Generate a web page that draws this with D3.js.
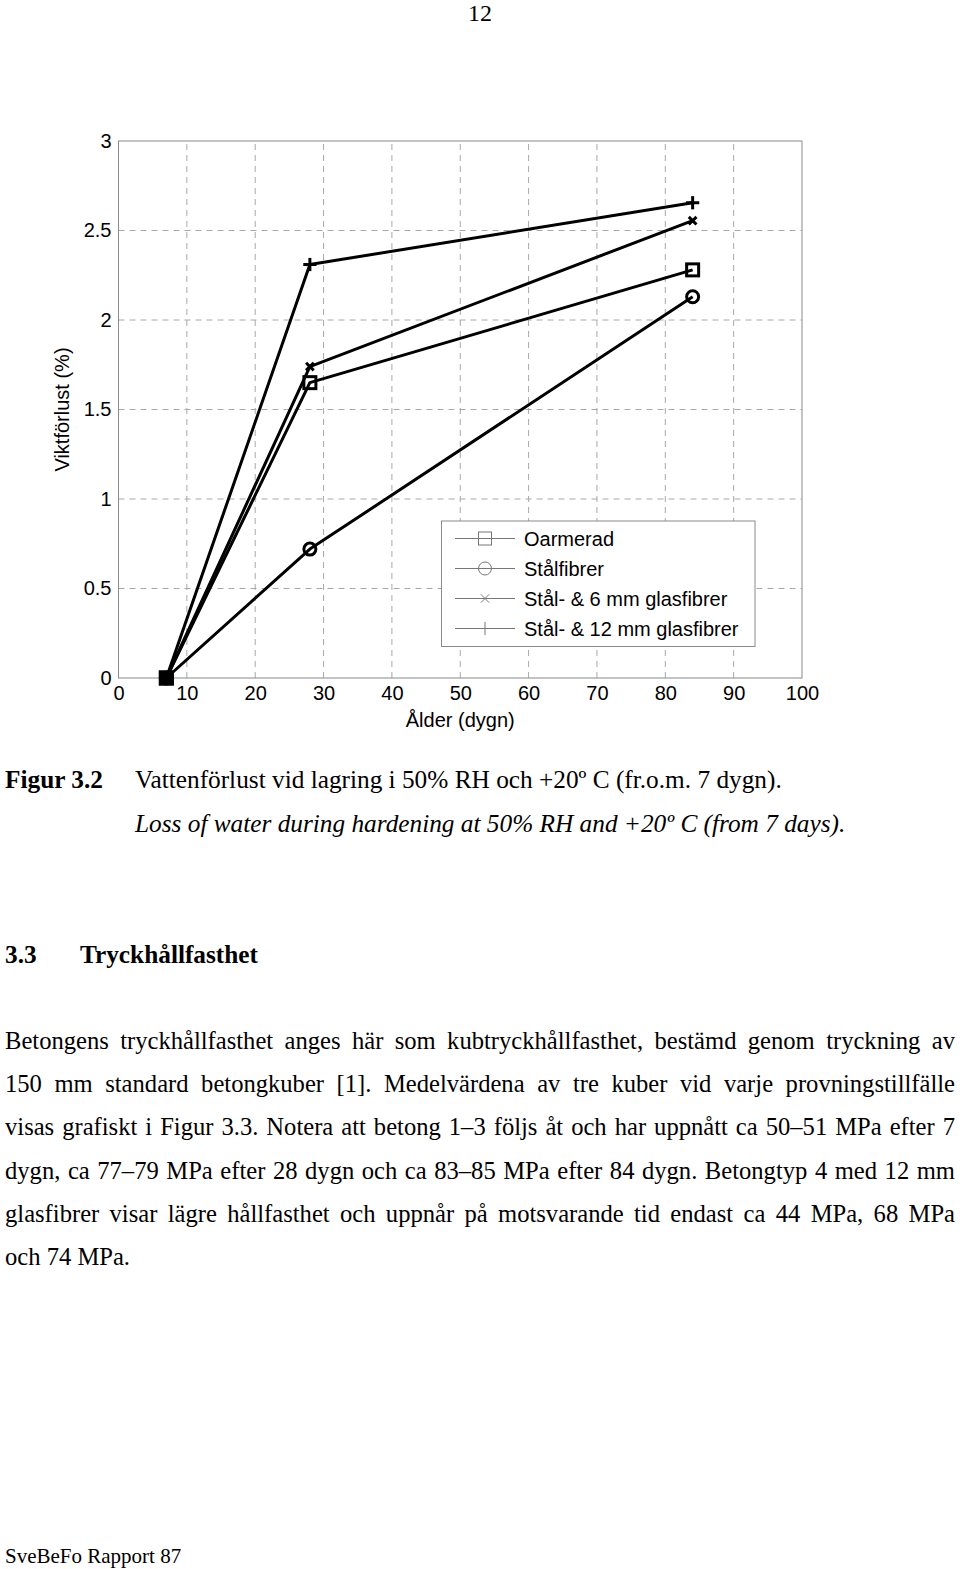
<!DOCTYPE html>
<html><head><meta charset="utf-8">
<script src="https://cdn.jsdelivr.net/npm/d3@7"></script>
<style>body{margin:0;background:#fff}svg{display:block}</style>
</head><body>
<svg id="page" width="960" height="1569"></svg>
<script>
// ---- data ----
const days = [7, 28, 84];
const oarmerad = [0, 1.65, 2.28];
const stalfibrer = [0, 0.72, 2.13];
const stal6 = [0, 1.74, 2.555];
const stal12 = [0, 2.31, 2.655];
const seriesNames = ["Oarmerad", "Stålfibrer", "Stål- & 6 mm glasfibrer", "Stål- & 12 mm glasfibrer"];
const seriesMarkers = ["square", "circle", "x", "plus"];
const xTicks = [0, 10, 20, 30, 40, 50, 60, 70, 80, 90, 100];
const yTicks = [0, 0.5, 1, 1.5, 2, 2.5, 3];
const yTickLabels = ["0", "0.5", "1", "1.5", "2", "2.5", "3"];
const xLabel = "Ålder (dygn)";
const yLabel = "Viktförlust (%)";
const pageNumber = "12";
const captionLabel = "Figur 3.2";
const captionSv = "Vattenförlust vid lagring i 50% RH och +20º C (fr.o.m. 7 dygn).";
const captionEn = "Loss of water during hardening at 50% RH and +20º C (from 7 days).";
const headingNum = "3.3";
const headingText = "Tryckhållfasthet";
const paragraphLines = [
  "Betongens tryckhållfasthet anges här som kubtryckhållfasthet, bestämd genom tryckning av",
  "150 mm standard betongkuber [1]. Medelvärdena av tre kuber vid varje provningstillfälle",
  "visas grafiskt i Figur 3.3. Notera att betong 1–3 följs åt och har uppnått ca 50–51 MPa efter 7",
  "dygn, ca 77–79 MPa efter 28 dygn och ca 83–85 MPa efter 84 dygn. Betongtyp 4 med 12 mm",
  "glasfibrer visar lägre hållfasthet och uppnår på motsvarande tid endast ca 44 MPa, 68 MPa",
  "och 74 MPa."
];
const footer = "SveBeFo Rapport 87";

const seriesValues = [oarmerad, stalfibrer, stal6, stal12];

// ---- chart ----
const svg = d3.select("#page");
const sans = "'Liberation Sans', Arial, Helvetica, sans-serif";
const serif = "'Liberation Serif', 'Times New Roman', serif";

const x = d3.scaleLinear().domain([0, 100]).range([118.5, 802]);
const y = d3.scaleLinear().domain([0, 3]).range([678, 141]);

const g = svg.append("g");

// grid
g.append("g").selectAll("line.vg").data(xTicks.slice(1, -1)).join("line")
  .attr("x1", d => x(d)).attr("x2", d => x(d)).attr("y1", y(0)).attr("y2", y(3))
  .attr("stroke", "#a8a8a8").attr("stroke-width", 1).attr("stroke-dasharray", "6,5");
g.append("g").selectAll("line.hg").data(yTicks.slice(1, -1)).join("line")
  .attr("x1", x(0)).attr("x2", x(100)).attr("y1", d => y(d)).attr("y2", d => y(d))
  .attr("stroke", "#a8a8a8").attr("stroke-width", 1).attr("stroke-dasharray", "6,5");

// frame
g.append("rect").attr("x", x(0)).attr("y", y(3)).attr("width", x(100) - x(0)).attr("height", y(0) - y(3))
  .attr("fill", "none").attr("stroke", "#8a8a8a").attr("stroke-width", 1);

// axes (labels via d3 axis)
const xAxis = d3.axisBottom(x).tickValues(xTicks).tickSize(0).tickPadding(8).tickFormat(d3.format("d"));
const yAxis = d3.axisLeft(y).tickValues(yTicks).tickSize(0).tickPadding(7).tickFormat((d, i) => yTickLabels[i]);
const gx = g.append("g").attr("transform", `translate(0,${y(0)})`).call(xAxis);
const gy = g.append("g").attr("transform", `translate(${x(0)},0)`).call(yAxis);
[gx, gy].forEach(a => {
  a.select(".domain").remove();
  a.selectAll("text").attr("font-family", sans).attr("font-size", 20).attr("fill", "#000");
});

g.append("text").attr("x", (x(0) + x(100)) / 2).attr("y", 727).attr("text-anchor", "middle")
  .attr("font-family", sans).attr("font-size", 20).text(xLabel);
g.append("text").attr("transform", `translate(69,${(y(0) + y(3)) / 2}) rotate(-90)`).attr("text-anchor", "middle")
  .attr("font-family", sans).attr("font-size", 20).text(yLabel);

// marker drawing
function marker(sel, type, cx, cy, s, sw, color) {
  const m = sel.append("g").attr("transform", `translate(${cx},${cy})`)
    .attr("stroke", color).attr("stroke-width", sw).attr("fill", "none");
  if (type === "square") m.append("rect").attr("x", -s / 2).attr("y", -s / 2).attr("width", s).attr("height", s);
  else if (type === "circle") m.append("circle").attr("r", s / 2);
  else if (type === "x") {
    const h = s * 0.32;
    m.append("line").attr("x1", -h).attr("y1", -h).attr("x2", h).attr("y2", h);
    m.append("line").attr("x1", -h).attr("y1", h).attr("x2", h).attr("y2", -h);
  } else if (type === "plus") {
    const h = s * 0.55;
    m.append("line").attr("x1", -h).attr("y1", 0).attr("x2", h).attr("y2", 0);
    m.append("line").attr("x1", 0).attr("y1", -h).attr("x2", 0).attr("y2", h);
  }
}

// legend
const lg = g.append("g");
lg.append("rect").attr("x", 441.5).attr("y", 521).attr("width", 313.5).attr("height", 125.5)
  .attr("fill", "#fff").attr("stroke", "#8a8a8a").attr("stroke-width", 1);
seriesNames.forEach((name, i) => {
  const ly = 538.5 + i * 30;
  lg.append("line").attr("x1", 455).attr("x2", 515).attr("y1", ly).attr("y2", ly)
    .attr("stroke", "#777").attr("stroke-width", 1);
  marker(lg, seriesMarkers[i], 485, ly, i === 3 ? 12 : 13, 1, "#777");
  lg.append("text").attr("x", 524).attr("y", ly + 7).attr("font-family", sans).attr("font-size", 20)
    .attr("fill", "#000").text(name);
});

// series
const line = d3.line().x((d, i) => x(days[i])).y(d => y(d));
seriesValues.forEach((vals, si) => {
  g.append("path").attr("d", line(vals)).attr("fill", "none").attr("stroke", "#000")
    .attr("stroke-width", 3).attr("stroke-linejoin", "round");
});
seriesValues.forEach((vals, si) => {
  vals.forEach((v, i) => {
    marker(g, seriesMarkers[si], x(days[i]), y(v), 12, 3, "#000");
  });
});
// start point: all markers coincide (drawn filled as in reference)
g.append("rect").attr("x", x(days[0]) - 7.5).attr("y", y(oarmerad[0]) - 7.5).attr("width", 15).attr("height", 15).attr("fill", "#000");

// ---- page text ----
svg.append("text").attr("x", 480).attr("y", 21).attr("text-anchor", "middle")
  .attr("font-family", serif).attr("font-size", 24).text(pageNumber);

svg.append("text").attr("x", 5).attr("y", 788).attr("font-family", serif).attr("font-size", 25.3)
  .attr("font-weight", "bold").text(captionLabel);
svg.append("text").attr("x", 135).attr("y", 788).attr("font-family", serif).attr("font-size", 25.3).text(captionSv);
svg.append("text").attr("x", 135).attr("y", 832).attr("font-family", serif).attr("font-size", 25.3)
  .attr("font-style", "italic").text(captionEn);

svg.append("text").attr("x", 5).attr("y", 963).attr("font-family", serif).attr("font-size", 25.3)
  .attr("font-weight", "bold").text(headingNum);
svg.append("text").attr("x", 80).attr("y", 963).attr("font-family", serif).attr("font-size", 25.3)
  .attr("font-weight", "bold").text(headingText);

// justified paragraph
const left = 5, right = 955;
paragraphLines.forEach((ln, i) => {
  const t = svg.append("text").attr("y", 1049 + i * 43.2).attr("font-family", serif).attr("font-size", 24.6);
  const words = ln.split(" ");
  if (i === paragraphLines.length - 1) { t.attr("x", left).text(ln); return; }
  const spans = words.map(w => t.append("tspan").text(w));
  const widths = spans.map(s => s.node().getComputedTextLength());
  const total = d3.sum(widths);
  const gap = (right - left - total) / (words.length - 1);
  let cx = left;
  spans.forEach((s, k) => { s.attr("x", cx); cx += widths[k] + gap; });
});

svg.append("text").attr("x", 5).attr("y", 1563).attr("font-family", serif).attr("font-size", 21).text(footer);
</script>
</body></html>
